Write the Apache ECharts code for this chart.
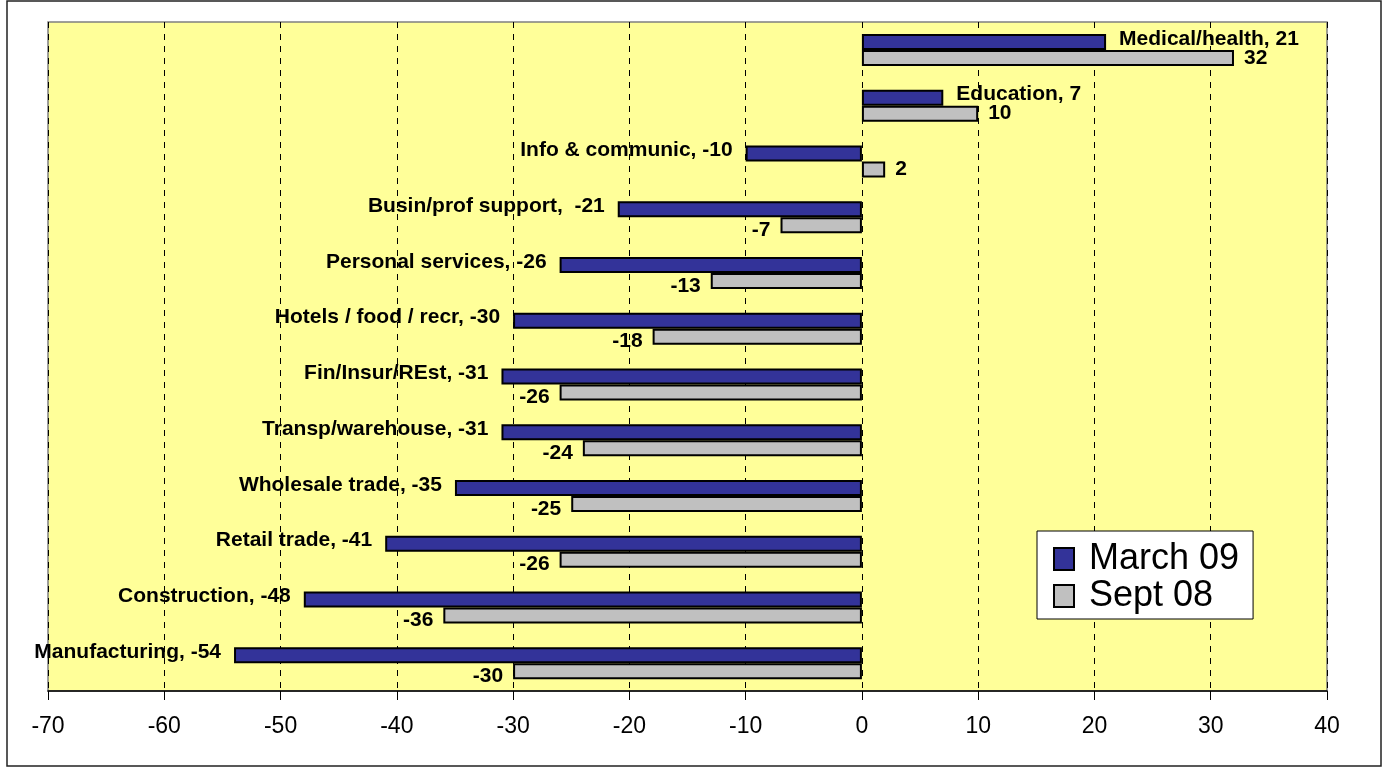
<!DOCTYPE html>
<html>
<head>
<meta charset="utf-8">
<script src="https://cdn.jsdelivr.net/npm/echarts@6/dist/echarts.min.js"></script>
<style>
  html, body { margin: 0; padding: 0; background: #fff; }
  #chart { width: 1386px; height: 772px; }
</style>
</head>
<body>
<div id="chart"></div>
<script>
// data, top to bottom
var categories = ["Medical/health", "Education", "Info & communic", "Busin/prof support",
    "Personal services", "Hotels / food / recr", "Fin/Insur/REst", "Transp/warehouse",
    "Wholesale trade", "Retail trade", "Construction", "Manufacturing"];
var march09 = [21, 7, -10, -21, -26, -30, -31, -31, -35, -41, -48, -54];
var sept08 = [32, 10, 2, -7, -13, -18, -26, -24, -25, -26, -36, -30];
var seriesNames = ["March 09", "Sept 08"];

var labelFont = { color: "#000", fontFamily: "Liberation Sans, Arial", fontWeight: "bold", fontSize: 21 };

// March labels: "name, value", outside the bar end
function marchData() {
    return march09.map(function (v) {
        return {
            value: v,
            label: { position: v < 0 ? "left" : "right", offset: [0, -3] }
        };
    });
}
// Sept labels: value only
function septData() {
    return sept08.map(function (v) {
        return {
            value: v,
            label: { position: v < 0 ? "left" : "right", offset: [0, v < 0 ? 5 : 0] }
        };
    });
}

var chart = echarts.init(document.getElementById("chart"));
var option = {
    animation: false,
    backgroundColor: "#fff",
    graphic: [{
        type: "rect",
        shape: { x: 7, y: 1, width: 1374, height: 765 },
        style: { fill: "none", stroke: "#222", lineWidth: 1.5 },
        z: -1
    }],
    grid: {
        left: 48, right: 59, top: 22, bottom: 81,
        show: true, backgroundColor: "#FFFF99", borderColor: "#808080", borderWidth: 1.5
    },
    legend: {
        data: seriesNames,
        orient: "vertical",
        left: 1037, top: 531,
        backgroundColor: "#fff",
        borderColor: "#000", borderWidth: 1,
        padding: [10, 14, 5, 16],
        itemWidth: 20, itemHeight: 22, itemGap: 1,
        icon: "rect",
        textStyle: {
            fontFamily: "Liberation Sans, Arial", fontSize: 36, color: "#000",
            lineHeight: 32, padding: [0, 0, 0, 10]
        }
    },
    xAxis: {
        type: "value",
        min: -70, max: 40, interval: 10,
        axisLine: { show: true, onZero: false, lineStyle: { color: "#000", width: 1.5 } },
        axisTick: { show: true, length: 9, lineStyle: { color: "#000" } },
        axisLabel: { color: "#000", fontFamily: "Liberation Sans, Arial", fontSize: 23, margin: 24 },
        splitLine: { show: true, lineStyle: { color: "#000", type: [6, 6], width: 1 } }
    },
    yAxis: {
        type: "category",
        data: categories,
        inverse: true,
        axisLine: { show: false },
        axisTick: { show: false },
        axisLabel: { show: false }
    },
    series: [
        {
            name: seriesNames[0],
            type: "bar",
            data: marchData(),
            barWidth: 16,
            barGap: "0%",
            itemStyle: { color: "#333399", borderColor: "#000", borderWidth: 2 },
            label: Object.assign({
                show: true, distance: 13,
                formatter: function (p) {
                    // the original has a double space after this one
                    var sep = p.name === "Busin/prof support" ? ",  " : ", ";
                    return p.name + sep + p.value;
                }
            }, labelFont)
        },
        {
            name: seriesNames[1],
            type: "bar",
            data: septData(),
            barWidth: 16,
            barGap: "0%",
            itemStyle: { color: "#C0C0C0", borderColor: "#000", borderWidth: 2 },
            label: Object.assign({ show: true, distance: 10, formatter: "{c}" }, labelFont)
        }
    ]
};
chart.setOption(option);
</script>
</body>
</html>
